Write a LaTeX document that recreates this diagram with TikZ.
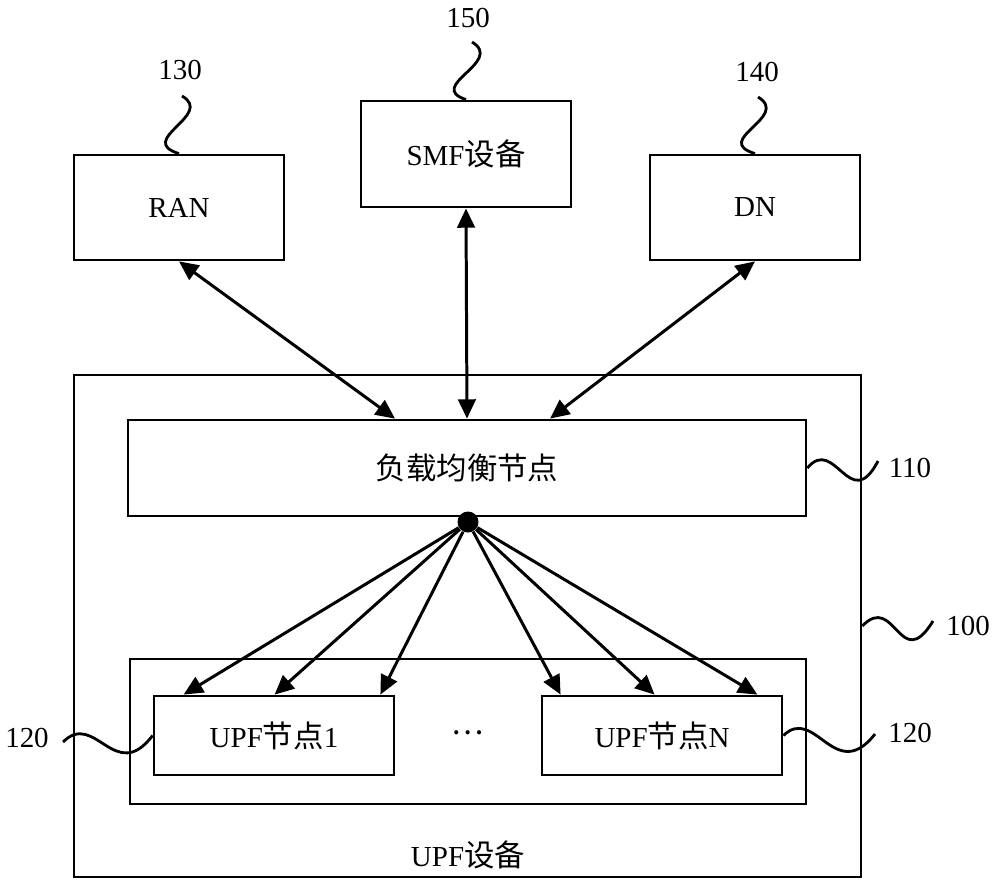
\documentclass[tikz,border=0pt]{standalone}
\usepackage{fontspec}
\setmainfont{Liberation Serif}
\newfontfamily\cjk[Scale=1.05]{Noto Sans CJK SC}
\usetikzlibrary{arrows.meta}
\tikzset{box/.style={draw, line width=1.6pt, inner sep=0pt},
  num/.style={inner sep=0pt},
  wave/.style={line width=1.6pt},
  link/.style={line width=1.7pt, {Triangle[length=11pt,width=10pt]}-{Triangle[length=11pt,width=10pt]}},
  fan/.style={line width=1.7pt, -{Triangle[length=11pt,width=10pt]}}}

\begin{document}
\begin{tikzpicture}[x=0.02cm, y=-0.02cm, font=\fontsize{16.5}{19}\selectfont]
    \useasboundingbox (0,0) rectangle (1000,886);
    % outer network functions
    \node[box, minimum width=4.2cm, minimum height=2.1cm] (ran) at (179,207.5) {RAN};
    \node[box, minimum width=4.2cm, minimum height=2.12cm] (smf) at (466,154) {SMF{\cjk 设备}};
    \node[box, minimum width=4.2cm, minimum height=2.1cm] (dn) at (755,207.5) {DN};
    % upf device
    \node[box, minimum width=15.74cm, minimum height=10.04cm] (upf) at (467.5,626) {};
    \node[box, minimum width=13.56cm, minimum height=1.92cm] (lb) at (467,468) {\cjk 负载均衡节点};
    \node[box, minimum width=13.52cm, minimum height=2.9cm] (pool) at (468,731.5) {};
    \node[box, minimum width=4.8cm, minimum height=1.58cm] (upf1) at (274,735.5) {UPF{\cjk 节点}1};
    \node[box, minimum width=4.8cm, minimum height=1.58cm] (upfn) at (662,735.5) {UPF{\cjk 节点}N};
    \node[num] (dots) at (468,733) {\cjk …};
    \node[num] (upfname) at (468,855) {UPF{\cjk 设备}};
    \node[circle, fill=black, inner sep=0pt, minimum size=0.42cm] (hub) at (468,522) {};
    % reference numbers
    \node[num] (n130) at (180,70) {130};
    \node[num] (n150) at (468,18) {150};
    \node[num] (n140) at (757,72) {140};
    \node[num] (n110) at (910,468) {110};
    \node[num] (n100) at (968,626) {100};
    \node[num] (n120a) at (27,738) {120};
    \node[num] (n120b) at (910,733) {120};
    \coordinate (w130) at (182,96);
    \coordinate (w150) at (472,42);
    \coordinate (w140) at (758,97);
    \coordinate (w110) at (878,461);
    \coordinate (w100) at (933,621);
    \coordinate (w120a) at (63,742);
    \coordinate (w120b) at (875,734);
    \draw[wave] (w130) .. controls (215,115) and (135,140) .. (ran.north);
    \draw[wave] (w150) .. controls (505,62) and (425,86) .. (smf.north);
    \draw[wave] (w140) .. controls (791,117) and (711,140) .. (dn.north);
    \draw[wave] (lb.east) .. controls (835,435) and (850,515) .. (w110);
    \draw[wave] (upf.east) .. controls (895,592) and (900,675) .. (w100);
    \draw[wave] (upfn.east) .. controls (815,705) and (835,785) .. (w120b);
    \draw[wave] (w120a) .. controls (95,710) and (115,785) .. (upf1.west);
    % links
    \draw[link] (ran.south) -- ([xshift=-1.44cm]lb.north);
    \draw[link] (smf.south) -- (lb.north);
    \draw[link] (dn.south) -- ([xshift=1.66cm]lb.north);
    \foreach \n/\a/\dx in {upf1/north west/0.62, upf1/north west/2.44, upf1/north east/-0.3,
        upfn/north west/0.4, upfn/north west/2.28, upfn/north east/-0.52}
      \draw[fan] (hub) -- ([xshift=\dx cm]\n.\a);
\end{tikzpicture}
\end{document}
